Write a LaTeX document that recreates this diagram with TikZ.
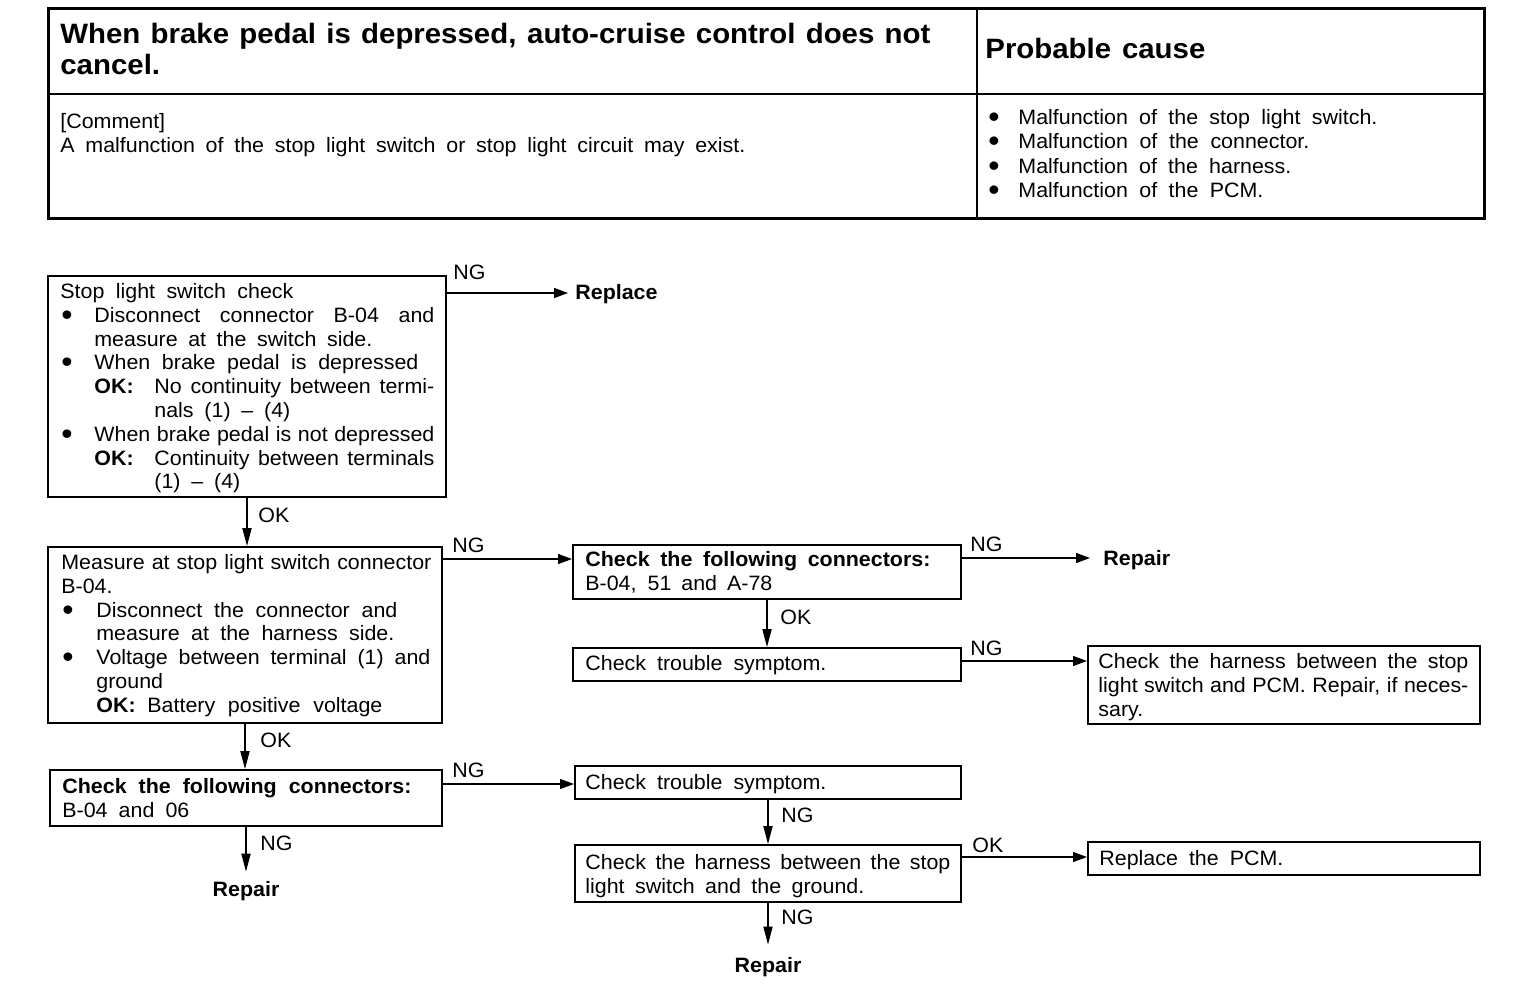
\documentclass[tikz,border=0pt]{standalone}
\usepackage{graphicx}
\usepackage{fontspec}
\setmainfont{Liberation Sans}[FakeStretch=1.03]
\newfontfamily\titlefont{Liberation Sans}[FakeStretch=1.05]
\usetikzlibrary{arrows.meta,fit}
\newlength\pxu \setlength\pxu{0.5pt}
\newcommand\J[2]{\makebox[#1\pxu][s]{#2}}
\newcommand\fl{\rule{0pt}{8pt}}
\newcommand\bul[1]{\makebox[#1\pxu][l]{\hspace{1\pxu}\smash{\raisebox{-1.5pt}{\scalebox{1.5}{\textbullet}}}}}
\newcommand\ind[1]{\hspace*{#1\pxu}}
\begin{document}
\begin{tikzpicture}[x=0.5pt,y=-0.5pt,
  box/.style={draw, line width=1pt, inner sep=0pt},
  txt/.style={inner sep=0pt, anchor=north west, align=left, font=\fontsize{10.4}{11.9}\selectfont},
  lab/.style={inner sep=0pt, anchor=base west, font=\fontsize{10.4}{11.9}\selectfont},
  term/.style={inner ysep=0pt, font=\fontsize{10.4}{11.9}\selectfont\bfseries},
  harr/.style={line width=0.6pt, -{Triangle[length=7pt,width=5pt]}},
  varr/.style={line width=0.6pt, -{Triangle[length=9pt,width=4.6pt]}}]
\useasboundingbox (0,0) rectangle (1536,1002);
\fill[white] (0,0) rectangle (1536,1002);

% ---------- top table ----------
\draw[line width=1.5pt] (48,8) rectangle (1484,218);
\draw[line width=0.9pt] (977,8) -- (977,218);
\draw[line width=0.9pt] (48,94) -- (1484,94);
\node[txt, font=\titlefont\bfseries\fontsize{14}{15.5}\selectfont] (tt) at (60,23)
  {\rule{0pt}{10pt}\J{870}{When brake pedal is depressed, auto-cruise control does not}\\cancel.};
\node[txt, font=\titlefont\bfseries\fontsize{14}{15.5}\selectfont] (tp) at (985,38)
  {\rule{0pt}{10pt}\J{220}{Probable cause}};
\node[txt] (tc) at (60,112)
  {\fl[Comment]\\\J{685}{A malfunction of the stop light switch or stop light circuit may exist.}};
\node[txt, font=\fontsize{10.4}{12.25}\selectfont] (tb) at (987,108)
  {\fl\bul{31}\J{359}{Malfunction of the stop light switch.}\\
   \bul{31}\J{291}{Malfunction of the connector.}\\
   \bul{31}\J{273}{Malfunction of the harness.}\\
   \bul{31}\J{245}{Malfunction of the PCM.}};

% ---------- boxes ----------
\node[box, fit={(48,276) (446,497)}] (b1) {};
\node[box, fit={(48,547) (442,723)}] (b2) {};
\node[box, fit={(573,545) (961,599)}] (b3) {};
\node[box, fit={(573,648) (961,681)}] (b4) {};
\node[box, fit={(1088,646) (1480,724)}] (b5) {};
\node[box, fit={(50,770) (442,826)}] (b6) {};
\node[box, fit={(575,766) (961,799)}] (b7) {};
\node[box, fit={(575,845) (961,902)}] (b8) {};
\node[box, fit={(1088,842) (1480,875)}] (b9) {};

% ---------- box texts ----------
\node[txt] (t1) at (60,282)
  {\fl\J{233}{Stop light switch check}\\
   \bul{34}\J{340}{Disconnect connector B-04 and}\\
   \ind{34}\J{278}{measure at the switch side.}\\
   \bul{34}\J{324}{When brake pedal is depressed}\\
   \ind{34}\makebox[60\pxu][l]{\bfseries OK:}\J{280}{No continuity between termi-}\\
   \ind{94}\J{136}{nals (1) -- (4)}\\
   \bul{34}\J{340}{When brake pedal is not depressed}\\
   \ind{34}\makebox[60\pxu][l]{\bfseries OK:}\J{280}{Continuity between terminals}\\
   \ind{94}\J{86}{(1) -- (4)}};
\node[txt] (t2) at (61,553)
  {\fl\J{370}{Measure at stop light switch connector}\\
   B-04.\\
   \bul{35}\J{301}{Disconnect the connector and}\\
   \ind{35}\J{298}{measure at the harness side.}\\
   \bul{35}\J{334}{Voltage between terminal (1) and}\\
   \ind{35}ground\\
   \ind{35}\makebox[51\pxu][l]{\bfseries OK:}\J{235}{Battery positive voltage}};
\node[txt] (t3) at (585,550)
  {\fl\textbf{\J{345}{Check the following connectors:}}\\
   \J{187}{B-04, 51 and A-78}};
\node[txt] (t4) at (585,654) {\fl\J{241}{Check trouble symptom.}};
\node[txt] (t5) at (1098,652)
  {\fl\J{370}{Check the harness between the stop}\\
   \J{370}{light switch and PCM. Repair, if neces-}\\
   sary.};
\node[txt] (t6) at (62,777)
  {\fl\textbf{\J{349}{Check the following connectors:}}\\
   \J{127}{B-04 and 06}};
\node[txt] (t7) at (585,773) {\fl\J{241}{Check trouble symptom.}};
\node[txt] (t8) at (585,853)
  {\fl\J{365}{Check the harness between the stop}\\
   \J{279}{light switch and the ground.}};
\node[txt] (t9) at (1099,849) {\fl\J{184}{Replace the PCM.}};

% ---------- terminals ----------
\node[term, anchor=base west, inner xsep=3.5pt] (rep1) at (568,299) {Replace};
\node[term, anchor=base west, inner xsep=6.5pt] (rep2) at (1090,565) {Repair};
\node[term, anchor=base, inner xsep=0pt, inner ysep=4.5pt] (rep3) at (246,896) {Repair};
\node[term, anchor=base, inner xsep=0pt, inner ysep=6pt] (rep4) at (768,972) {Repair};

% ---------- row coordinates ----------
\coordinate (r1) at (0,293);
\coordinate (r2) at (0,559);
\coordinate (r3) at (0,558);
\coordinate (r4) at (0,661);
\coordinate (r5) at (0,784);
\coordinate (r6) at (0,857);

% ---------- connectors ----------
\draw[harr] (b1.east |- r1) -- (rep1.west |- r1);
\draw[harr] (b2.east |- r2) -- (b3.west |- r2);
\draw[harr] (b3.east |- r3) -- (rep2.west |- r3);
\draw[harr] (b4.east |- r4) -- (b5.west |- r4);
\draw[harr] (b6.east |- r5) -- (b7.west |- r5);
\draw[harr] (b8.east |- r6) -- (b9.west |- r6);
\draw[varr] (b1.south) -- (b1.south |- b2.north);
\draw[varr] (b2.south) -- (b2.south |- b6.north);
\draw[varr] (b6.south) -- (b6.south |- rep3.north);
\draw[varr] (b3.south) -- (b3.south |- b4.north);
\draw[varr] (b7.south) -- (b7.south |- b8.north);
\draw[varr] (b8.south) -- (b8.south |- rep4.north);

% ---------- labels ----------
\node[lab] (l1) at (453,279) {NG};
\node[lab] (l2) at (258,522) {OK};
\node[lab] (l3) at (452,552) {NG};
\node[lab] (l4) at (970,551) {NG};
\node[lab] (l5) at (780,624) {OK};
\node[lab] (l6) at (970,655) {NG};
\node[lab] (l7) at (260,747) {OK};
\node[lab] (l8) at (452,777) {NG};
\node[lab] (l9) at (260,850) {NG};
\node[lab] (l10) at (781,822) {NG};
\node[lab] (l11) at (972,852) {OK};
\node[lab] (l12) at (781,924) {NG};
\end{tikzpicture}
\end{document}
